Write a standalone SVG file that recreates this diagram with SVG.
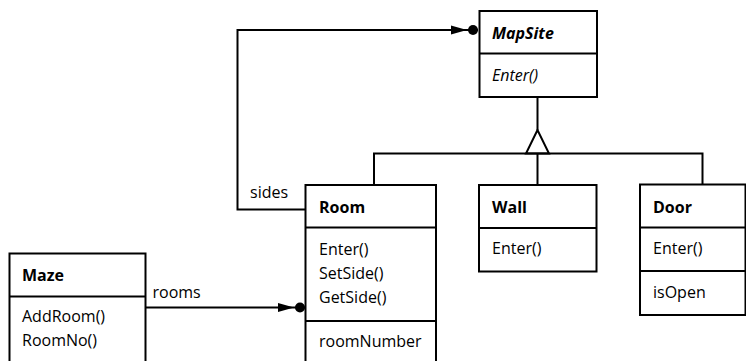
<svg xmlns="http://www.w3.org/2000/svg" width="746" height="361" viewBox="0 0 746 361">
<style>
.box{fill:#fff;stroke:#000;stroke-width:2}
.ln{fill:none;stroke:#000;stroke-width:2}
text{font-family:"Open Sans","DejaVu Sans",sans-serif;font-size:16px;fill:#000}
.b{font-weight:bold}
.i{font-style:italic}
</style>
<defs>
<marker id="agg" markerUnits="userSpaceOnUse" markerWidth="32" markerHeight="12" refX="27" refY="6" orient="auto">
<path d="M0,1.5 L16,6 L0,10.5 Z" fill="#000"/>
<circle cx="22" cy="6" r="5" fill="#000"/>
</marker>
</defs>
<g id="connectors">
<polyline class="ln" points="305,209.5 237.5,209.5 237.5,30 478,30" marker-end="url(#agg)"/>
<polyline class="ln" points="145.5,307.5 305,307.5" marker-end="url(#agg)"/>
<line class="ln" x1="537.5" y1="97" x2="537.5" y2="130"/>
<polygon points="537.5,130 526,153.5 549,153.5" fill="#fff" stroke="#000" stroke-width="2"/>
<polyline class="ln" points="374,185 374,153.5 702.5,153.5 702.5,185"/>
<line class="ln" x1="537.5" y1="153.5" x2="537.5" y2="185"/>
<text x="250" y="197.5">sides</text>
<text x="152.5" y="297.5">rooms</text>
</g>
<g id="MapSite">
<rect class="box" x="479.5" y="11" width="117.5" height="86"/>
<line class="ln" x1="479.5" y1="53.5" x2="597" y2="53.5"/>
<text class="b i" x="492" y="38.5">MapSite</text>
<text class="i" x="492" y="81">Enter()</text>
</g>
<g id="Room">
<rect class="box" x="305.5" y="185" width="130.5" height="190"/>
<line class="ln" x1="305.5" y1="227.5" x2="436" y2="227.5"/>
<line class="ln" x1="305.5" y1="321" x2="436" y2="321"/>
<text class="b" x="319" y="212.5">Room</text>
<text x="319" y="255">Enter()</text>
<text x="319" y="279">SetSide()</text>
<text x="319" y="302.5">GetSide()</text>
<text x="319" y="346.5">roomNumber</text>
</g>
<g id="Wall">
<rect class="box" x="479" y="185" width="117.5" height="86.5"/>
<line class="ln" x1="479" y1="228" x2="596.5" y2="228"/>
<text class="b" x="492" y="212.5">Wall</text>
<text x="492" y="254">Enter()</text>
</g>
<g id="Door">
<rect class="box" x="640" y="184.5" width="105.5" height="130.5"/>
<line class="ln" x1="640" y1="227.5" x2="745.5" y2="227.5"/>
<line class="ln" x1="640" y1="271" x2="745.5" y2="271"/>
<text class="b" x="653" y="212.5">Door</text>
<text x="653" y="254">Enter()</text>
<text x="653" y="297.5">isOpen</text>
</g>
<g id="Maze">
<rect class="box" x="9.5" y="253.5" width="136" height="120"/>
<line class="ln" x1="9.5" y1="296.5" x2="145.5" y2="296.5"/>
<text class="b" x="22" y="281">Maze</text>
<text x="22" y="322">AddRoom()</text>
<text x="22" y="346">RoomNo()</text>
</g>
</svg>
